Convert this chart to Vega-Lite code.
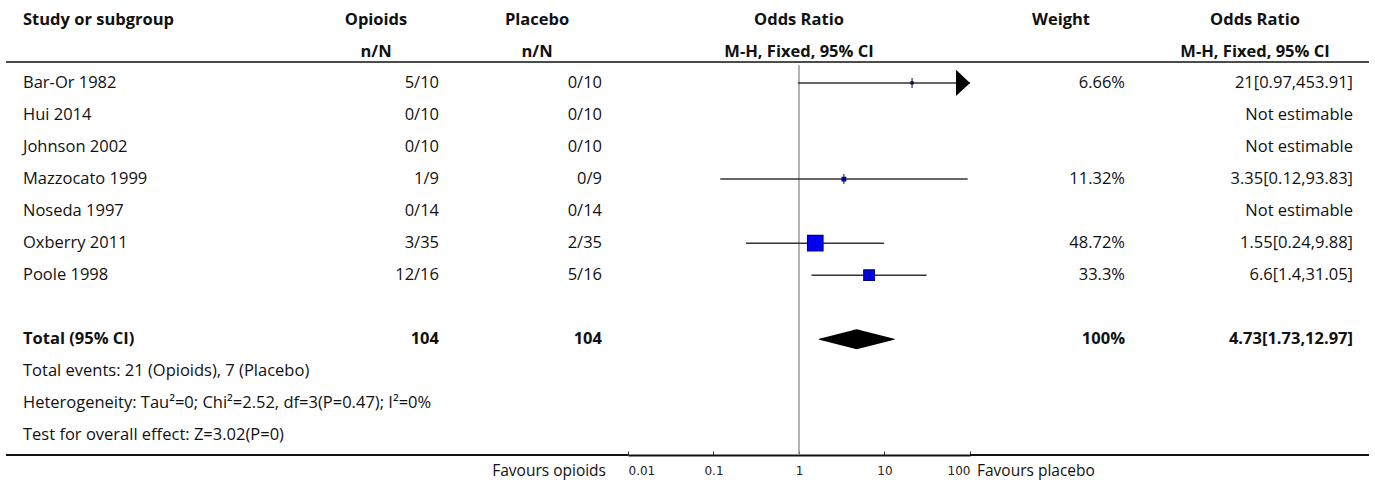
{
  "$schema": "https://vega.github.io/schema/vega-lite/v6.json",
  "padding": {"left": 5, "top": 5, "right": 0, "bottom": 0},
  "spacing": 0,
  "bounds": "flush",
  "config": {
    "view": {"stroke": null},
    "text": {"font": "Open Sans", "fontSize": 16.5, "color": "#111"},
    "axisX": {"labelFont": "DejaVu Sans", "labelFontSize": 12, "labelColor": "#222", "labelPadding": 14, "tickSize": -4, "tickColor": "#333", "domainColor": "#111", "domainWidth": 2, "grid": false}
  },
  "datasets": {
    "headers": [
      {"col": "study", "row": 0, "label": "Study or subgroup"},
      {"col": "e1", "row": 0, "label": "Opioids"},
      {"col": "e1", "row": 1, "label": "n/N"},
      {"col": "e2", "row": 0, "label": "Placebo"},
      {"col": "e2", "row": 1, "label": "n/N"},
      {"col": "plot", "row": 0, "label": "Odds Ratio"},
      {"col": "plot", "row": 1, "label": "M-H, Fixed, 95% CI"},
      {"col": "weight", "row": 0, "label": "Weight"},
      {"col": "ci", "row": 0, "label": "Odds Ratio"},
      {"col": "ci", "row": 1, "label": "M-H, Fixed, 95% CI"}
    ],
    "rows": [
      {"row": 2, "study": "Bar-Or 1982", "e1": "5/10", "e2": "0/10", "weight": "6.66%", "ci": "21[0.97,453.91]", "or": 21, "lo": 0.97, "hi": 453.91, "w": 6.66},
      {"row": 3, "study": "Hui 2014", "e1": "0/10", "e2": "0/10", "weight": "", "ci": "Not estimable"},
      {"row": 4, "study": "Johnson 2002", "e1": "0/10", "e2": "0/10", "weight": "", "ci": "Not estimable"},
      {"row": 5, "study": "Mazzocato 1999", "e1": "1/9", "e2": "0/9", "weight": "11.32%", "ci": "3.35[0.12,93.83]", "or": 3.35, "lo": 0.12, "hi": 93.83, "w": 11.32},
      {"row": 6, "study": "Noseda 1997", "e1": "0/14", "e2": "0/14", "weight": "", "ci": "Not estimable"},
      {"row": 7, "study": "Oxberry 2011", "e1": "3/35", "e2": "2/35", "weight": "48.72%", "ci": "1.55[0.24,9.88]", "or": 1.55, "lo": 0.24, "hi": 9.88, "w": 48.72},
      {"row": 8, "study": "Poole 1998", "e1": "12/16", "e2": "5/16", "weight": "33.3%", "ci": "6.6[1.4,31.05]", "or": 6.6, "lo": 1.4, "hi": 31.05, "w": 33.3},
      {"row": 10, "study": "Total (95% CI)", "e1": "104", "e2": "104", "weight": "100%", "ci": "4.73[1.73,12.97]", "or": 4.73, "lo": 1.73, "hi": 12.97},
      {"row": 11, "study": "Total events: 21 (Opioids), 7 (Placebo)", "e1": "", "e2": "", "weight": "", "ci": ""},
      {"row": 12, "study": "Heterogeneity: Tau²=0; Chi²=2.52, df=3(P=0.47); I²=0%", "e1": "", "e2": "", "weight": "", "ci": ""},
      {"row": 13, "study": "Test for overall effect: Z=3.02(P=0)", "e1": "", "e2": "", "weight": "", "ci": ""}
    ]
  },
  "hconcat": [
    {
      "width": 305, "height": 450,
      "layer": [
        {"data": {"name": "headers"}, "transform": [{"filter": "datum.col=='study'"}],
         "mark": {"type": "text", "fontWeight": "bold", "align": "left", "dx": 17, "dy": 1},
         "encoding": {"x": {"value": 0}, "y": {"field": "row", "type": "quantitative", "scale": {"domain": [-0.43, 13.61], "reverse": true, "nice": false, "zero": false}, "axis": null}, "text": {"field": "label"}}},
        {"data": {"name": "rows"}, "transform": [{"filter": "datum.row!=10"}],
         "mark": {"type": "text", "align": "left", "dx": 17},
         "encoding": {"x": {"value": 0}, "y": {"field": "row", "type": "quantitative"}, "text": {"field": "study"}}},
        {"data": {"name": "rows"}, "transform": [{"filter": "datum.row==10"}],
         "mark": {"type": "text", "align": "left", "dx": 17, "fontWeight": "bold"},
         "encoding": {"x": {"value": 0}, "y": {"field": "row", "type": "quantitative"}, "text": {"field": "study"}}},
        {"data": {"values": [{}]}, "mark": {"type": "rule", "strokeWidth": 1.5, "color": "#111"}, "encoding": {"y": {"datum": 1.35, "type": "quantitative"}}},
        {"data": {"values": [{}]}, "mark": {"type": "rule", "strokeWidth": 2, "color": "#111"}, "encoding": {"y": {"datum": 13.61, "type": "quantitative"}}}
      ]
    },
    {
      "width": 130, "height": 450,
      "layer": [
        {"data": {"name": "headers"}, "transform": [{"filter": "datum.col=='e1'"}],
         "mark": {"type": "text", "fontWeight": "bold", "dy": 1},
         "encoding": {"y": {"field": "row", "type": "quantitative", "scale": {"domain": [-0.43, 13.61], "reverse": true, "nice": false, "zero": false}, "axis": null}, "text": {"field": "label"}}},
        {"data": {"name": "rows"}, "transform": [{"filter": "datum.row!=10 && datum.e1"}],
         "mark": {"type": "text", "align": "right", "dx": -2},
         "encoding": {"x": {"value": "width"}, "y": {"field": "row", "type": "quantitative"}, "text": {"field": "e1"}}},
        {"data": {"name": "rows"}, "transform": [{"filter": "datum.row==10"}],
         "mark": {"type": "text", "align": "right", "dx": -2, "fontWeight": "bold"},
         "encoding": {"x": {"value": "width"}, "y": {"field": "row", "type": "quantitative"}, "text": {"field": "e1"}}},
        {"data": {"values": [{}]}, "mark": {"type": "rule", "strokeWidth": 1.5, "color": "#111"}, "encoding": {"y": {"datum": 1.35, "type": "quantitative"}}},
        {"data": {"values": [{}]}, "mark": {"type": "rule", "strokeWidth": 2, "color": "#111"}, "encoding": {"y": {"datum": 13.61, "type": "quantitative"}}}
      ]
    },
    {
      "width": 187, "height": 450,
      "layer": [
        {"data": {"name": "headers"}, "transform": [{"filter": "datum.col=='e2'"}],
         "mark": {"type": "text", "fontWeight": "bold", "dx": 2.5, "dy": 1},
         "encoding": {"y": {"field": "row", "type": "quantitative", "scale": {"domain": [-0.43, 13.61], "reverse": true, "nice": false, "zero": false}, "axis": null}, "text": {"field": "label"}}},
        {"data": {"name": "rows"}, "transform": [{"filter": "datum.row!=10 && datum.e2"}],
         "mark": {"type": "text", "align": "right", "dx": -26},
         "encoding": {"x": {"value": "width"}, "y": {"field": "row", "type": "quantitative"}, "text": {"field": "e2"}}},
        {"data": {"name": "rows"}, "transform": [{"filter": "datum.row==10"}],
         "mark": {"type": "text", "align": "right", "dx": -26, "fontWeight": "bold"},
         "encoding": {"x": {"value": "width"}, "y": {"field": "row", "type": "quantitative"}, "text": {"field": "e2"}}},
        {"data": {"values": [{"label": "Favours opioids"}]},
         "mark": {"type": "text", "align": "right", "dx": -22, "fontSize": 15.5},
         "encoding": {"x": {"value": "width"}, "y": {"datum": 14.1, "type": "quantitative"}, "text": {"field": "label"}}},
        {"data": {"values": [{}]}, "mark": {"type": "rule", "strokeWidth": 1.5, "color": "#111"}, "encoding": {"y": {"datum": 1.35, "type": "quantitative"}}},
        {"data": {"values": [{}]}, "mark": {"type": "rule", "strokeWidth": 2, "color": "#111"}, "encoding": {"y": {"datum": 13.61, "type": "quantitative"}}}
      ]
    },
    {
      "width": 342, "height": 450,
      "layer": [
        {"data": {"name": "headers"}, "transform": [{"filter": "datum.col=='plot'"}],
         "mark": {"type": "text", "fontWeight": "bold", "dy": 1},
         "encoding": {"y": {"field": "row", "type": "quantitative", "scale": {"domain": [-0.43, 13.61], "reverse": true, "nice": false, "zero": false}, "axis": null}, "text": {"field": "label"}}},
        {"data": {"values": [{}]}, "mark": {"type": "rule", "strokeWidth": 1.5, "color": "#111"}, "encoding": {"y": {"datum": 1.35, "type": "quantitative"}}},
        {"data": {"values": [{}]}, "mark": {"type": "rule", "strokeWidth": 1.5, "color": "#9a9a9a"},
         "encoding": {
           "x": {"datum": 1, "type": "quantitative", "scale": {"type": "log", "domain": [0.01, 100], "clamp": true, "nice": false},
                 "axis": {"values": [0.01, 0.1, 1, 10, 100], "labelExpr": "''+datum.value", "title": null, "grid": false, "domainColor": "#111", "domainWidth": 2, "tickColor": "#333", "tickSize": -4, "labelFont": "DejaVu Sans", "labelFontSize": 12, "labelColor": "#222", "labelPadding": 14, "labelFlush": true}},
           "y": {"datum": 1.44, "type": "quantitative"},
           "y2": {"datum": 13.61}
         }},
        {"data": {"name": "rows"}, "transform": [{"filter": "isValid(datum.w)"}],
         "mark": {"type": "rule", "strokeWidth": 1.5, "color": "#333"},
         "encoding": {"x": {"field": "lo", "type": "quantitative"}, "x2": {"field": "hi"}, "y": {"field": "row", "type": "quantitative"}}},
        {"data": {"name": "rows"}, "transform": [{"filter": "isValid(datum.w)"}],
         "mark": {"type": "point", "shape": "square", "filled": true, "opacity": 1, "color": "#0000ff", "stroke": "#000080", "strokeWidth": 1.2},
         "encoding": {"x": {"field": "or", "type": "quantitative"}, "y": {"field": "row", "type": "quantitative"},
                      "size": {"field": "w", "type": "quantitative", "scale": {"type": "pow", "exponent": 2, "domain": [0, 48.72], "range": [0, 240]}, "legend": null}}},
        {"data": {"name": "rows"}, "transform": [{"filter": "isValid(datum.w)"}],
         "mark": {"type": "tick", "orient": "vertical", "size": 10, "thickness": 1, "color": "#111", "opacity": 1},
         "encoding": {"x": {"field": "or", "type": "quantitative"}, "y": {"field": "row", "type": "quantitative"}}},
        {"data": {"name": "rows"}, "transform": [{"filter": "datum.hi > 100"}],
         "mark": {"type": "point", "shape": "M-1,-0.93L0,0L-1,0.93Z", "size": 784, "filled": true, "opacity": 1, "color": "#000"},
         "encoding": {"x": {"field": "hi", "type": "quantitative"}, "y": {"field": "row", "type": "quantitative"}}},
        {"data": {"name": "rows"}, "transform": [{"filter": "datum.row==10"}, {"fold": ["lo", "or", "hi"], "as": ["v", "val"]}],
         "mark": {"type": "trail", "color": "#000"},
         "encoding": {"x": {"field": "val", "type": "quantitative"}, "y": {"field": "row", "type": "quantitative"},
                      "size": {"field": "v", "type": "nominal", "scale": {"type": "ordinal", "domain": ["lo", "or", "hi"], "range": [0, 20, 0]}, "legend": null}}}
      ]
    },
    {
      "width": 182, "height": 450,
      "layer": [
        {"data": {"name": "headers"}, "transform": [{"filter": "datum.col=='weight'"}],
         "mark": {"type": "text", "fontWeight": "bold", "dy": 1},
         "encoding": {"y": {"field": "row", "type": "quantitative", "scale": {"domain": [-0.43, 13.61], "reverse": true, "nice": false, "zero": false}, "axis": null}, "text": {"field": "label"}}},
        {"data": {"name": "rows"}, "transform": [{"filter": "datum.row!=10 && datum.weight"}],
         "mark": {"type": "text", "align": "right", "dx": -27},
         "encoding": {"x": {"value": "width"}, "y": {"field": "row", "type": "quantitative"}, "text": {"field": "weight"}}},
        {"data": {"name": "rows"}, "transform": [{"filter": "datum.row==10"}],
         "mark": {"type": "text", "align": "right", "dx": -27, "fontWeight": "bold"},
         "encoding": {"x": {"value": "width"}, "y": {"field": "row", "type": "quantitative"}, "text": {"field": "weight"}}},
        {"data": {"values": [{"label": "Favours placebo"}]},
         "mark": {"type": "text", "align": "left", "dx": 7, "fontSize": 15.5},
         "encoding": {"x": {"value": 0}, "y": {"datum": 14.1, "type": "quantitative"}, "text": {"field": "label"}}},
        {"data": {"values": [{}]}, "mark": {"type": "rule", "strokeWidth": 1.5, "color": "#111"}, "encoding": {"y": {"datum": 1.35, "type": "quantitative"}}},
        {"data": {"values": [{}]}, "mark": {"type": "rule", "strokeWidth": 2, "color": "#111"}, "encoding": {"y": {"datum": 13.61, "type": "quantitative"}}}
      ]
    },
    {
      "width": 217, "height": 450,
      "layer": [
        {"data": {"name": "headers"}, "transform": [{"filter": "datum.col=='ci'"}],
         "mark": {"type": "text", "fontWeight": "bold", "dx": -5.5, "dy": 1},
         "encoding": {"y": {"field": "row", "type": "quantitative", "scale": {"domain": [-0.43, 13.61], "reverse": true, "nice": false, "zero": false}, "axis": null}, "text": {"field": "label"}}},
        {"data": {"name": "rows"}, "transform": [{"filter": "datum.row!=10 && datum.ci"}],
         "mark": {"type": "text", "align": "right", "dx": -16},
         "encoding": {"x": {"value": "width"}, "y": {"field": "row", "type": "quantitative"}, "text": {"field": "ci"}}},
        {"data": {"name": "rows"}, "transform": [{"filter": "datum.row==10"}],
         "mark": {"type": "text", "align": "right", "dx": -16, "fontWeight": "bold"},
         "encoding": {"x": {"value": "width"}, "y": {"field": "row", "type": "quantitative"}, "text": {"field": "ci"}}},
        {"data": {"values": [{}]}, "mark": {"type": "rule", "strokeWidth": 1.5, "color": "#111"}, "encoding": {"y": {"datum": 1.35, "type": "quantitative"}}},
        {"data": {"values": [{}]}, "mark": {"type": "rule", "strokeWidth": 2, "color": "#111"}, "encoding": {"y": {"datum": 13.61, "type": "quantitative"}}}
      ]
    }
  ]
}
